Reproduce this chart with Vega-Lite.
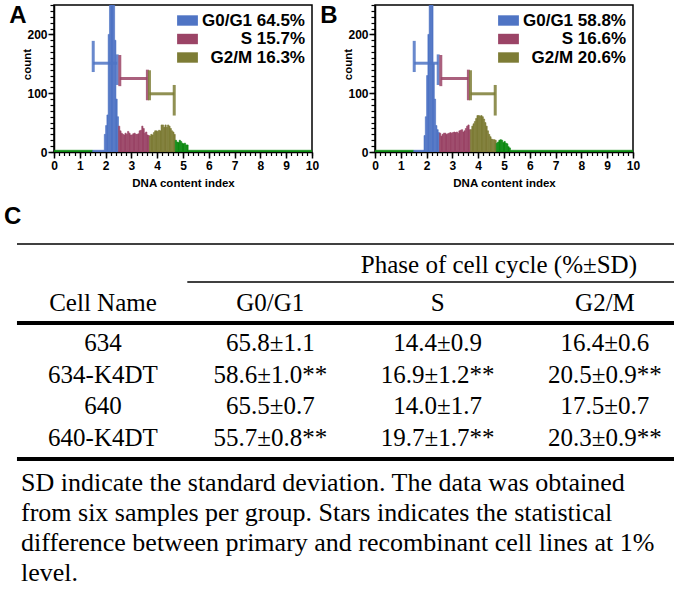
{
  "$schema": "https://vega.github.io/schema/vega-lite/v6.json",
  "background": "white",
  "padding": {"left": 4, "top": 3, "right": 0, "bottom": 0},
  "datasets": {
    "histA": [
      {"bin_start": 0, "bin_end": 1.5, "count": 3, "phase": "other"},
      {"bin_start": 1.5, "bin_end": 1.95, "count": 3, "phase": "G0/G1"},
      {"bin_start": 1.95, "bin_end": 2.0, "count": 30, "phase": "G0/G1"},
      {"bin_start": 2.0, "bin_end": 2.05, "count": 45, "phase": "G0/G1"},
      {"bin_start": 2.05, "bin_end": 2.1, "count": 63, "phase": "G0/G1"},
      {"bin_start": 2.1, "bin_end": 2.15, "count": 200, "phase": "G0/G1"},
      {"bin_start": 2.15, "bin_end": 2.2, "count": 280, "phase": "G0/G1"},
      {"bin_start": 2.2, "bin_end": 2.25, "count": 320, "phase": "G0/G1"},
      {"bin_start": 2.25, "bin_end": 2.3, "count": 330, "phase": "G0/G1"},
      {"bin_start": 2.3, "bin_end": 2.35, "count": 300, "phase": "G0/G1"},
      {"bin_start": 2.35, "bin_end": 2.4, "count": 190, "phase": "G0/G1"},
      {"bin_start": 2.4, "bin_end": 2.45, "count": 90, "phase": "G0/G1"},
      {"bin_start": 2.45, "bin_end": 2.5, "count": 60, "phase": "G0/G1"},
      {"bin_start": 2.5, "bin_end": 2.55, "count": 44, "phase": "S"},
      {"bin_start": 2.55, "bin_end": 2.6, "count": 36, "phase": "S"},
      {"bin_start": 2.6, "bin_end": 2.65, "count": 32, "phase": "S"},
      {"bin_start": 2.65, "bin_end": 2.7, "count": 30, "phase": "S"},
      {"bin_start": 2.7, "bin_end": 2.75, "count": 29, "phase": "S"},
      {"bin_start": 2.75, "bin_end": 2.8, "count": 32, "phase": "S"},
      {"bin_start": 2.8, "bin_end": 2.85, "count": 30, "phase": "S"},
      {"bin_start": 2.85, "bin_end": 2.9, "count": 35, "phase": "S"},
      {"bin_start": 2.9, "bin_end": 2.95, "count": 32, "phase": "S"},
      {"bin_start": 2.95, "bin_end": 3.0, "count": 29, "phase": "S"},
      {"bin_start": 3.0, "bin_end": 3.05, "count": 29, "phase": "S"},
      {"bin_start": 3.05, "bin_end": 3.1, "count": 31, "phase": "S"},
      {"bin_start": 3.1, "bin_end": 3.15, "count": 32, "phase": "S"},
      {"bin_start": 3.15, "bin_end": 3.2, "count": 30, "phase": "S"},
      {"bin_start": 3.2, "bin_end": 3.25, "count": 30, "phase": "S"},
      {"bin_start": 3.25, "bin_end": 3.3, "count": 31, "phase": "S"},
      {"bin_start": 3.3, "bin_end": 3.35, "count": 36, "phase": "S"},
      {"bin_start": 3.35, "bin_end": 3.4, "count": 37, "phase": "S"},
      {"bin_start": 3.4, "bin_end": 3.45, "count": 44, "phase": "S"},
      {"bin_start": 3.45, "bin_end": 3.5, "count": 40, "phase": "S"},
      {"bin_start": 3.5, "bin_end": 3.55, "count": 32, "phase": "S"},
      {"bin_start": 3.55, "bin_end": 3.6, "count": 34, "phase": "S"},
      {"bin_start": 3.6, "bin_end": 3.65, "count": 29, "phase": "S"},
      {"bin_start": 3.65, "bin_end": 3.7, "count": 28, "phase": "S"},
      {"bin_start": 3.7, "bin_end": 3.75, "count": 27, "phase": "G2/M"},
      {"bin_start": 3.75, "bin_end": 3.8, "count": 30, "phase": "G2/M"},
      {"bin_start": 3.8, "bin_end": 3.85, "count": 29, "phase": "G2/M"},
      {"bin_start": 3.85, "bin_end": 3.9, "count": 33, "phase": "G2/M"},
      {"bin_start": 3.9, "bin_end": 3.95, "count": 36, "phase": "G2/M"},
      {"bin_start": 3.95, "bin_end": 4.0, "count": 36, "phase": "G2/M"},
      {"bin_start": 4.0, "bin_end": 4.05, "count": 35, "phase": "G2/M"},
      {"bin_start": 4.05, "bin_end": 4.1, "count": 37, "phase": "G2/M"},
      {"bin_start": 4.1, "bin_end": 4.15, "count": 36, "phase": "G2/M"},
      {"bin_start": 4.15, "bin_end": 4.2, "count": 46, "phase": "G2/M"},
      {"bin_start": 4.2, "bin_end": 4.25, "count": 46, "phase": "G2/M"},
      {"bin_start": 4.25, "bin_end": 4.3, "count": 42, "phase": "G2/M"},
      {"bin_start": 4.3, "bin_end": 4.35, "count": 46, "phase": "G2/M"},
      {"bin_start": 4.35, "bin_end": 4.4, "count": 42, "phase": "G2/M"},
      {"bin_start": 4.4, "bin_end": 4.45, "count": 46, "phase": "G2/M"},
      {"bin_start": 4.45, "bin_end": 4.5, "count": 44, "phase": "G2/M"},
      {"bin_start": 4.5, "bin_end": 4.55, "count": 40, "phase": "G2/M"},
      {"bin_start": 4.55, "bin_end": 4.6, "count": 36, "phase": "G2/M"},
      {"bin_start": 4.6, "bin_end": 4.65, "count": 34, "phase": "G2/M"},
      {"bin_start": 4.65, "bin_end": 4.7, "count": 30, "phase": "G2/M"},
      {"bin_start": 4.7, "bin_end": 4.75, "count": 20, "phase": "other"},
      {"bin_start": 4.75, "bin_end": 4.8, "count": 17, "phase": "other"},
      {"bin_start": 4.8, "bin_end": 4.85, "count": 16, "phase": "other"},
      {"bin_start": 4.85, "bin_end": 4.9, "count": 20, "phase": "other"},
      {"bin_start": 4.9, "bin_end": 4.95, "count": 18, "phase": "other"},
      {"bin_start": 4.95, "bin_end": 5.0, "count": 15, "phase": "other"},
      {"bin_start": 5.0, "bin_end": 5.05, "count": 14, "phase": "other"},
      {"bin_start": 5.05, "bin_end": 5.1, "count": 15, "phase": "other"},
      {"bin_start": 5.1, "bin_end": 5.15, "count": 12, "phase": "other"},
      {"bin_start": 5.15, "bin_end": 5.2, "count": 12, "phase": "other"},
      {"bin_start": 5.2, "bin_end": 10, "count": 3, "phase": "other"}
    ],
    "histB": [
      {"bin_start": 0, "bin_end": 1.5, "count": 3, "phase": "other"},
      {"bin_start": 1.5, "bin_end": 1.9, "count": 3, "phase": "G0/G1"},
      {"bin_start": 1.9, "bin_end": 1.95, "count": 28, "phase": "G0/G1"},
      {"bin_start": 1.95, "bin_end": 2.0, "count": 60, "phase": "G0/G1"},
      {"bin_start": 2.0, "bin_end": 2.05, "count": 130, "phase": "G0/G1"},
      {"bin_start": 2.05, "bin_end": 2.1, "count": 200, "phase": "G0/G1"},
      {"bin_start": 2.1, "bin_end": 2.15, "count": 320, "phase": "G0/G1"},
      {"bin_start": 2.15, "bin_end": 2.2, "count": 330, "phase": "G0/G1"},
      {"bin_start": 2.2, "bin_end": 2.25, "count": 300, "phase": "G0/G1"},
      {"bin_start": 2.25, "bin_end": 2.3, "count": 150, "phase": "G0/G1"},
      {"bin_start": 2.3, "bin_end": 2.35, "count": 90, "phase": "G0/G1"},
      {"bin_start": 2.35, "bin_end": 2.4, "count": 45, "phase": "G0/G1"},
      {"bin_start": 2.4, "bin_end": 2.45, "count": 38, "phase": "G0/G1"},
      {"bin_start": 2.45, "bin_end": 2.5, "count": 33, "phase": "G0/G1"},
      {"bin_start": 2.5, "bin_end": 2.55, "count": 32, "phase": "S"},
      {"bin_start": 2.55, "bin_end": 2.6, "count": 27, "phase": "S"},
      {"bin_start": 2.6, "bin_end": 2.65, "count": 30, "phase": "S"},
      {"bin_start": 2.65, "bin_end": 2.7, "count": 32, "phase": "S"},
      {"bin_start": 2.7, "bin_end": 2.75, "count": 32, "phase": "S"},
      {"bin_start": 2.75, "bin_end": 2.8, "count": 30, "phase": "S"},
      {"bin_start": 2.8, "bin_end": 2.85, "count": 31, "phase": "S"},
      {"bin_start": 2.85, "bin_end": 2.9, "count": 32, "phase": "S"},
      {"bin_start": 2.9, "bin_end": 2.95, "count": 33, "phase": "S"},
      {"bin_start": 2.95, "bin_end": 3.0, "count": 32, "phase": "S"},
      {"bin_start": 3.0, "bin_end": 3.05, "count": 33, "phase": "S"},
      {"bin_start": 3.05, "bin_end": 3.1, "count": 34, "phase": "S"},
      {"bin_start": 3.1, "bin_end": 3.15, "count": 33, "phase": "S"},
      {"bin_start": 3.15, "bin_end": 3.2, "count": 34, "phase": "S"},
      {"bin_start": 3.2, "bin_end": 3.25, "count": 32, "phase": "S"},
      {"bin_start": 3.25, "bin_end": 3.3, "count": 36, "phase": "S"},
      {"bin_start": 3.3, "bin_end": 3.35, "count": 37, "phase": "S"},
      {"bin_start": 3.35, "bin_end": 3.4, "count": 38, "phase": "S"},
      {"bin_start": 3.4, "bin_end": 3.45, "count": 34, "phase": "S"},
      {"bin_start": 3.45, "bin_end": 3.5, "count": 36, "phase": "S"},
      {"bin_start": 3.5, "bin_end": 3.55, "count": 40, "phase": "S"},
      {"bin_start": 3.55, "bin_end": 3.6, "count": 44, "phase": "S"},
      {"bin_start": 3.6, "bin_end": 3.65, "count": 46, "phase": "S"},
      {"bin_start": 3.65, "bin_end": 3.7, "count": 38, "phase": "S"},
      {"bin_start": 3.7, "bin_end": 3.75, "count": 38, "phase": "G2/M"},
      {"bin_start": 3.75, "bin_end": 3.8, "count": 44, "phase": "G2/M"},
      {"bin_start": 3.8, "bin_end": 3.85, "count": 48, "phase": "G2/M"},
      {"bin_start": 3.85, "bin_end": 3.9, "count": 52, "phase": "G2/M"},
      {"bin_start": 3.9, "bin_end": 3.95, "count": 57, "phase": "G2/M"},
      {"bin_start": 3.95, "bin_end": 4.0, "count": 62, "phase": "G2/M"},
      {"bin_start": 4.0, "bin_end": 4.05, "count": 62, "phase": "G2/M"},
      {"bin_start": 4.05, "bin_end": 4.1, "count": 61, "phase": "G2/M"},
      {"bin_start": 4.1, "bin_end": 4.15, "count": 62, "phase": "G2/M"},
      {"bin_start": 4.15, "bin_end": 4.2, "count": 60, "phase": "G2/M"},
      {"bin_start": 4.2, "bin_end": 4.25, "count": 56, "phase": "G2/M"},
      {"bin_start": 4.25, "bin_end": 4.3, "count": 50, "phase": "G2/M"},
      {"bin_start": 4.3, "bin_end": 4.35, "count": 44, "phase": "G2/M"},
      {"bin_start": 4.35, "bin_end": 4.4, "count": 36, "phase": "G2/M"},
      {"bin_start": 4.4, "bin_end": 4.45, "count": 30, "phase": "G2/M"},
      {"bin_start": 4.45, "bin_end": 4.5, "count": 26, "phase": "G2/M"},
      {"bin_start": 4.5, "bin_end": 4.55, "count": 22, "phase": "G2/M"},
      {"bin_start": 4.55, "bin_end": 4.6, "count": 21, "phase": "G2/M"},
      {"bin_start": 4.6, "bin_end": 4.65, "count": 21, "phase": "G2/M"},
      {"bin_start": 4.65, "bin_end": 4.7, "count": 20, "phase": "G2/M"},
      {"bin_start": 4.7, "bin_end": 4.75, "count": 15, "phase": "other"},
      {"bin_start": 4.75, "bin_end": 4.8, "count": 17, "phase": "other"},
      {"bin_start": 4.8, "bin_end": 4.85, "count": 20, "phase": "other"},
      {"bin_start": 4.85, "bin_end": 4.9, "count": 21, "phase": "other"},
      {"bin_start": 4.9, "bin_end": 4.95, "count": 20, "phase": "other"},
      {"bin_start": 4.95, "bin_end": 5.0, "count": 16, "phase": "other"},
      {"bin_start": 5.0, "bin_end": 5.05, "count": 18, "phase": "other"},
      {"bin_start": 5.05, "bin_end": 5.1, "count": 15, "phase": "other"},
      {"bin_start": 5.1, "bin_end": 5.15, "count": 14, "phase": "other"},
      {"bin_start": 5.15, "bin_end": 5.2, "count": 9, "phase": "other"},
      {"bin_start": 5.2, "bin_end": 5.25, "count": 7, "phase": "other"},
      {"bin_start": 5.25, "bin_end": 10, "count": 3, "phase": "other"}
    ],
    "markers": [
      {"phase": "G0/G1", "x": 1.52, "x2": 2.45, "y": 151, "y2": 151},
      {"phase": "G0/G1", "x": 1.52, "x2": 1.52, "y": 136, "y2": 189},
      {"phase": "G0/G1", "x": 2.45, "x2": 2.45, "y": 114, "y2": 166},
      {"phase": "S", "x": 2.55, "x2": 3.62, "y": 125, "y2": 125},
      {"phase": "S", "x": 2.55, "x2": 2.55, "y": 112, "y2": 165},
      {"phase": "S", "x": 3.62, "x2": 3.62, "y": 88, "y2": 140},
      {"phase": "G2/M", "x": 3.7, "x2": 4.66, "y": 99, "y2": 99},
      {"phase": "G2/M", "x": 3.7, "x2": 3.7, "y": 88, "y2": 139},
      {"phase": "G2/M", "x": 4.66, "x2": 4.66, "y": 62, "y2": 114}
    ],
    "body": [
      {"row": "634", "col": "Cell Name", "text": "634"},
      {"row": "634", "col": "G0/G1", "text": "65.8±1.1"},
      {"row": "634", "col": "S", "text": "14.4±0.9"},
      {"row": "634", "col": "G2/M", "text": "16.4±0.6"},
      {"row": "634-K4DT", "col": "Cell Name", "text": "634-K4DT"},
      {"row": "634-K4DT", "col": "G0/G1", "text": "58.6±1.0**"},
      {"row": "634-K4DT", "col": "S", "text": "16.9±1.2**"},
      {"row": "634-K4DT", "col": "G2/M", "text": "20.5±0.9**"},
      {"row": "640", "col": "Cell Name", "text": "640"},
      {"row": "640", "col": "G0/G1", "text": "65.5±0.7"},
      {"row": "640", "col": "S", "text": "14.0±1.7"},
      {"row": "640", "col": "G2/M", "text": "17.5±0.7"},
      {"row": "640-K4DT", "col": "Cell Name", "text": "640-K4DT"},
      {"row": "640-K4DT", "col": "G0/G1", "text": "55.7±0.8**"},
      {"row": "640-K4DT", "col": "S", "text": "19.7±1.7**"},
      {"row": "640-K4DT", "col": "G2/M", "text": "20.3±0.9**"}
    ],
    "header": [
      {"col": "Cell Name", "text": "Cell Name"},
      {"col": "G0/G1", "text": "G0/G1"},
      {"col": "S", "text": "S"},
      {"col": "G2/M", "text": "G2/M"}
    ]
  },
  "vconcat": [
    {
      "hconcat": [
        {
          "width": 258,
          "height": 147,
          "title": {"text": "A", "orient": "left", "anchor": "end", "angle": 0, "align": "right", "baseline": "top", "fontSize": 24, "fontWeight": "bold", "font": "Liberation Sans", "color": "black", "offset": -22},
          "resolve": {"axis": {"x": "independent", "y": "independent"}},
          "layer": [
            {
              "data": {"name": "histA"},
              "mark": {"type": "rect", "clip": true, "strokeWidth": 0.6},
              "encoding": {
                "x": {"field": "bin_start", "type": "quantitative", "scale": {"domain": [0, 10], "nice": false, "zero": false},
                  "axis": {"orient": "bottom", "values": [0, 1, 2, 3, 4, 5, 6, 7, 8, 9, 10], "format": "d", "tickSize": 6, "tickWidth": 1.5, "domainWidth": 1.5, "labelFontSize": 12, "labelFontWeight": "bold", "labelPadding": 2, "labelFlush": false, "labelOverlap": false, "title": "DNA content index", "titleFontSize": 11.5, "titleFontWeight": "bold", "titlePadding": 6}},
                "x2": {"field": "bin_end"},
                "y": {"field": "count", "type": "quantitative", "scale": {"domain": [0, 250], "nice": false},
                  "axis": {"orient": "left", "values": [0, 100, 200], "tickSize": 6, "tickWidth": 1.5, "domainWidth": 1.5, "labelFontSize": 12, "labelFontWeight": "bold", "labelPadding": 1, "title": "count", "titleFontSize": 11.5, "titleFontWeight": "bold", "titlePadding": -6, "titleY": 59}},
                "y2": {"datum": 0},
                "color": {"field": "phase", "type": "nominal",
                  "scale": {"domain": ["G0/G1", "S", "G2/M", "other"], "range": ["#4f74c4", "#9b4466", "#7d7c35", "#0d8a12"]},
                  "legend": {"orient": "top-right", "offset": 7, "padding": 0, "title": null, "values": ["G0/G1", "S", "G2/M"], "symbolType": "M-1.6,-0.8H1.6V0.8H-1.6Z", "symbolSize": 169, "symbolStrokeWidth": 0, "symbolOpacity": 1, "labelFont": "Liberation Sans", "labelFontWeight": "bold", "labelFontSize": 17, "labelColor": "black", "labelAlign": "right", "labelOffset": 109, "labelLimit": 300, "rowPadding": 0.5,
                    "labelExpr": "datum.label == 'G0/G1' ? 'G0/G1 64.5%' : datum.label == 'S' ? 'S 15.7%' : 'G2/M 16.3%'"}},
                "stroke": {"field": "phase", "type": "nominal", "scale": {"domain": ["G0/G1", "S", "G2/M", "other"], "range": ["#4f74c4", "#9b4466", "#7d7c35", "#0d8a12"]}, "legend": null}
              }
            },
            {
              "data": {"name": "markers"},
              "mark": {"type": "rule", "strokeWidth": 3, "opacity": 0.85},
              "encoding": {
                "x": {"field": "x", "type": "quantitative",
                  "axis": {"orient": "bottom", "values": [0, 0.2, 0.4, 0.6, 0.8, 1, 1.2, 1.4, 1.6, 1.8, 2, 2.2, 2.4, 2.6, 2.8, 3, 3.2, 3.4, 3.6, 3.8, 4, 4.2, 4.4, 4.6, 4.8, 5, 5.2, 5.4, 5.6, 5.8, 6, 6.2, 6.4, 6.6, 6.8, 7, 7.2, 7.4, 7.6, 7.8, 8, 8.2, 8.4, 8.6, 8.8, 9, 9.2, 9.4, 9.6, 9.8, 10], "tickSize": 3.5, "tickWidth": 1.2, "labels": false, "domain": false, "title": null}},
                "x2": {"field": "x2"},
                "y": {"field": "y", "type": "quantitative",
                  "axis": {"orient": "left", "values": [0, 10, 20, 30, 40, 50, 60, 70, 80, 90, 100, 110, 120, 130, 140, 150, 160, 170, 180, 190, 200, 210, 220, 230, 240, 250], "tickSize": 4, "tickWidth": 1.2, "labels": false, "domain": false, "title": null}},
                "y2": {"field": "y2"},
                "color": {"field": "phase", "type": "nominal", "legend": null}
              }
            }
          ]
        },
        {
          "width": 258,
          "height": 147,
          "title": {"text": "B", "orient": "left", "anchor": "end", "angle": 0, "align": "right", "baseline": "top", "fontSize": 24, "fontWeight": "bold", "font": "Liberation Sans", "color": "black", "offset": -12},
          "resolve": {"axis": {"x": "independent", "y": "independent"}},
          "layer": [
            {
              "data": {"name": "histB"},
              "mark": {"type": "rect", "clip": true, "strokeWidth": 0.6},
              "encoding": {
                "x": {"field": "bin_start", "type": "quantitative", "scale": {"domain": [0, 10], "nice": false, "zero": false},
                  "axis": {"orient": "bottom", "values": [0, 1, 2, 3, 4, 5, 6, 7, 8, 9, 10], "format": "d", "tickSize": 6, "tickWidth": 1.5, "domainWidth": 1.5, "labelFontSize": 12, "labelFontWeight": "bold", "labelPadding": 2, "labelFlush": false, "labelOverlap": false, "title": "DNA content index", "titleFontSize": 11.5, "titleFontWeight": "bold", "titlePadding": 6}},
                "x2": {"field": "bin_end"},
                "y": {"field": "count", "type": "quantitative", "scale": {"domain": [0, 250], "nice": false},
                  "axis": {"orient": "left", "values": [0, 100, 200], "tickSize": 6, "tickWidth": 1.5, "domainWidth": 1.5, "labelFontSize": 12, "labelFontWeight": "bold", "labelPadding": 1, "title": "count", "titleFontSize": 11.5, "titleFontWeight": "bold", "titlePadding": -6, "titleY": 59}},
                "y2": {"datum": 0},
                "color": {"field": "phase", "type": "nominal",
                  "scale": {"domain": ["G0/G1", "S", "G2/M", "other"], "range": ["#4f74c4", "#9b4466", "#7d7c35", "#0d8a12"]},
                  "legend": {"orient": "top-right", "offset": 7, "padding": 0, "title": null, "values": ["G0/G1", "S", "G2/M"], "symbolType": "M-1.6,-0.8H1.6V0.8H-1.6Z", "symbolSize": 169, "symbolStrokeWidth": 0, "symbolOpacity": 1, "labelFont": "Liberation Sans", "labelFontWeight": "bold", "labelFontSize": 17, "labelColor": "black", "labelAlign": "right", "labelOffset": 109, "labelLimit": 300, "rowPadding": 0.5,
                    "labelExpr": "datum.label == 'G0/G1' ? 'G0/G1 58.8%' : datum.label == 'S' ? 'S 16.6%' : 'G2/M 20.6%'"}},
                "stroke": {"field": "phase", "type": "nominal", "scale": {"domain": ["G0/G1", "S", "G2/M", "other"], "range": ["#4f74c4", "#9b4466", "#7d7c35", "#0d8a12"]}, "legend": null}
              }
            },
            {
              "data": {"name": "markers"},
              "mark": {"type": "rule", "strokeWidth": 3, "opacity": 0.85},
              "encoding": {
                "x": {"field": "x", "type": "quantitative",
                  "axis": {"orient": "bottom", "values": [0, 0.2, 0.4, 0.6, 0.8, 1, 1.2, 1.4, 1.6, 1.8, 2, 2.2, 2.4, 2.6, 2.8, 3, 3.2, 3.4, 3.6, 3.8, 4, 4.2, 4.4, 4.6, 4.8, 5, 5.2, 5.4, 5.6, 5.8, 6, 6.2, 6.4, 6.6, 6.8, 7, 7.2, 7.4, 7.6, 7.8, 8, 8.2, 8.4, 8.6, 8.8, 9, 9.2, 9.4, 9.6, 9.8, 10], "tickSize": 3.5, "tickWidth": 1.2, "labels": false, "domain": false, "title": null}},
                "x2": {"field": "x2"},
                "y": {"field": "y", "type": "quantitative",
                  "axis": {"orient": "left", "values": [0, 10, 20, 30, 40, 50, 60, 70, 80, 90, 100, 110, 120, 130, 140, 150, 160, 170, 180, 190, 200, 210, 220, 230, 240, 250], "tickSize": 4, "tickWidth": 1.2, "labels": false, "domain": false, "title": null}},
                "y2": {"field": "y2"},
                "color": {"field": "phase", "type": "nominal", "legend": null}
              }
            }
          ]
        }
      ],
      "spacing": -1,
      "resolve": {"scale": {"color": "independent", "stroke": "independent"}, "legend": {"color": "independent"}}
    },
    {
      "width": 620,
      "height": 215,
      "view": {"stroke": null},
      "title": {"text": "C", "anchor": "start", "orient": "top", "frame": "group", "dx": -50, "offset": 14, "fontSize": 24, "fontWeight": "bold", "font": "Liberation Sans", "color": "black"},
      "layer": [
        {
          "data": {"name": "body"},
          "mark": {"type": "text", "font": "Liberation Serif", "fontSize": 25, "color": "black", "baseline": "middle"},
          "encoding": {
            "x": {"field": "col", "type": "nominal", "scale": {"type": "point", "domain": ["Cell Name", "G0/G1", "S", "G2/M"], "padding": 0.3526, "align": 0.415}, "axis": null},
            "y": {"field": "row", "type": "nominal", "scale": {"type": "point", "domain": ["Phase", "Header", "634", "634-K4DT", "640", "640-K4DT"], "padding": 0.89, "align": 0.63}, "axis": null},
            "text": {"field": "text"}
          }
        },
        {
          "data": {"name": "header"},
          "mark": {"type": "text", "font": "Liberation Serif", "fontSize": 25, "color": "black", "baseline": "middle", "yOffset": -8},
          "encoding": {
            "x": {"field": "col", "type": "nominal"},
            "y": {"datum": "Header"},
            "text": {"field": "text"}
          }
        },
        {
          "data": {"values": [{"label": "Phase of cell cycle (%±SD)"}]},
          "mark": {"type": "text", "font": "Liberation Serif", "fontSize": 25, "color": "black", "baseline": "middle", "align": "right", "xOffset": 32, "yOffset": -14.6},
          "encoding": {
            "x": {"datum": "G2/M"},
            "y": {"datum": "Phase"},
            "text": {"field": "label"}
          }
        },
        {
          "data": {"values": [{}]},
          "mark": {"type": "rule", "color": "black", "strokeWidth": 1.5, "yOffset": -35.6, "xOffset": -86},
          "encoding": {"y": {"datum": "Phase"}, "x": {"datum": "Cell Name"}, "x2": {"value": "width"}}
        },
        {
          "data": {"values": [{}]},
          "mark": {"type": "rule", "color": "black", "strokeWidth": 1.5, "yOffset": 2.4, "xOffset": -83},
          "encoding": {"y": {"datum": "Phase"}, "x": {"datum": "G0/G1"}, "x2": {"value": "width"}}
        },
        {
          "data": {"values": [{}]},
          "mark": {"type": "rule", "color": "black", "strokeWidth": 4, "yOffset": 11.7, "xOffset": -86},
          "encoding": {"y": {"datum": "Header"}, "x": {"datum": "Cell Name"}, "x2": {"value": "width"}}
        },
        {
          "data": {"values": [{}]},
          "mark": {"type": "rule", "color": "black", "strokeWidth": 4, "yOffset": 21, "xOffset": -86},
          "encoding": {"y": {"datum": "640-K4DT"}, "x": {"datum": "Cell Name"}, "x2": {"value": "width"}}
        },
        {
          "data": {"values": [{}]},
          "mark": {"type": "text", "font": "Liberation Serif", "fontSize": 26, "color": "black", "align": "left", "baseline": "top", "lineHeight": 30, "xOffset": -82, "yOffset": 32,
            "text": ["SD indicate the standard deviation.  The data was obtained", "from six samples per group.  Stars indicates the statistical", "difference between primary and recombinant cell lines at 1%", "level."]},
          "encoding": {"x": {"datum": "Cell Name"}, "y": {"datum": "640-K4DT"}}
        }
      ]
    }
  ],
  "spacing": 15,
  "config": {
    "view": {"stroke": "black", "strokeWidth": 1.5},
    "axis": {"domainColor": "black", "tickColor": "black", "labelColor": "black", "titleColor": "black", "grid": false, "labelFont": "Liberation Sans", "titleFont": "Liberation Sans"},
    "title": {"color": "black"}
  }
}
